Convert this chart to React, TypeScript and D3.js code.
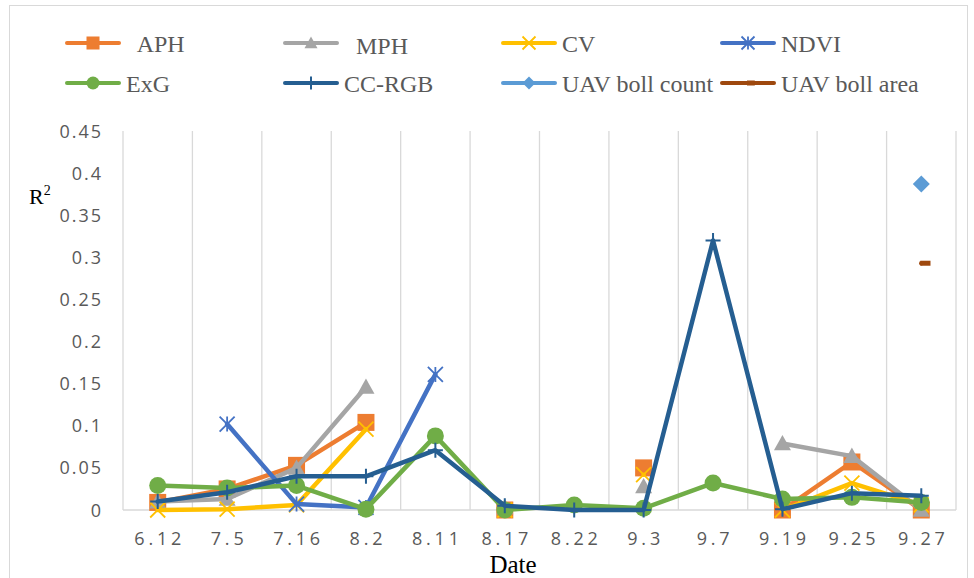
import React from 'react';
import * as d3 from 'd3';

// ---- data ----
const categories = ['6.12', '7.5', '7.16', '8.2', '8.11', '8.17', '8.22', '9.3', '9.7', '9.19', '9.25', '9.27'];
const aph = [0.009, 0.025, 0.053, 0.104, null, 0.0, null, 0.05, null, 0.0, 0.057, 0.0];
const mph = [0.01, 0.013, 0.05, 0.146, null, 0.003, null, 0.028, null, 0.079, 0.064, 0.0];
const cv = [0.0, 0.001, 0.006, 0.096, null, 0.0, null, 0.042, null, 0.0, 0.032, 0.006];
const ndvi = [null, 0.102, 0.007, 0.003, 0.161, null, null, null, null, null, null, null];
const exg = [0.029, 0.026, 0.029, 0.001, 0.088, 0.0, 0.006, 0.002, 0.032, 0.013, 0.015, 0.009];
const ccRgb = [0.01, 0.021, 0.04, 0.04, 0.071, 0.005, 0.0, 0.0, 0.32, 0.001, 0.02, 0.017];
const bollCount = [null, null, null, null, null, null, null, null, null, null, null, 0.387];
const bollArea = [null, null, null, null, null, null, null, null, null, null, null, 0.293];
const yTicks = [0, 0.05, 0.1, 0.15, 0.2, 0.25, 0.3, 0.35, 0.4, 0.45];
const yTickLabels = ['0', '0.05', '0.1', '0.15', '0.2', '0.25', '0.3', '0.35', '0.4', '0.45'];

const seriesNames = ['APH', 'MPH', 'CV', 'NDVI', 'ExG', 'CC-RGB', 'UAV boll count', 'UAV boll area'];
const seriesValues = [aph, mph, cv, ndvi, exg, ccRgb, bollCount, bollArea];
const seriesColors = ['#ED7D31', '#A5A5A5', '#FFC000', '#4472C4', '#70AD47', '#255E91', '#5B9BD5', '#9E480E'];
const seriesMarkers = ['square', 'triangle', 'x', 'asterisk', 'circle', 'plus', 'diamond', 'dash'];
const legendLabels = ['  APH', '  MPH', 'CV', 'NDVI', 'ExG', 'CC-RGB', 'UAV boll count', 'UAV boll area'];

const W = 974;
const H = 578;
const M = { left: 123, right: 956, top: 131, bottom: 510 };

const SERIF = '"Liberation Serif", "Times New Roman", serif';
const SANS = '"Open Sans", "Noto Sans", sans-serif';

function Marker({ kind, x, y, color, s }: { kind: string; x: number; y: number; color: string; s: number }) {
  const h = s / 2;
  switch (kind) {
    case 'square':
      return <rect x={x - h} y={y - h} width={s} height={s} fill={color} />;
    case 'triangle':
      return <path d={`M${x},${y - h}L${x + h},${y + h * 0.8}L${x - h},${y + h * 0.8}Z`} fill={color} />;
    case 'circle':
      return <circle cx={x} cy={y} r={h} fill={color} />;
    case 'diamond':
      return <path d={`M${x},${y - h}L${x + h},${y}L${x},${y + h}L${x - h},${y}Z`} fill={color} />;
    case 'x':
      return (
        <path
          d={`M${x - h},${y - h}L${x + h},${y + h}M${x - h},${y + h}L${x + h},${y - h}`}
          stroke={color}
          strokeWidth={1.8}
          fill="none"
        />
      );
    case 'asterisk':
      return (
        <path
          d={`M${x - h},${y - h}L${x + h},${y + h}M${x - h},${y + h}L${x + h},${y - h}M${x},${y - h}L${x},${y + h}`}
          stroke={color}
          strokeWidth={1.8}
          fill="none"
        />
      );
    case 'plus':
      return (
        <path d={`M${x},${y - h}V${y + h}M${x - h},${y}H${x + h}`} stroke={color} strokeWidth={2} fill="none" />
      );
    case 'dash':
      return <rect x={x - 1} y={y - 2.5} width={s * 0.6} height={5} fill={color} />;
    default:
      return null;
  }
}

export default function App() {
  const x = d3.scaleBand<string>().domain(categories).range([M.left, M.right]).padding(0);
  const y = d3.scaleLinear().domain([0, 0.45]).range([M.bottom, M.top]);
  const cx = (c: string) => (x(c) as number) + x.bandwidth() / 2;

  const line = d3
    .line<number | null>()
    .defined((d) => d != null)
    .x((_, i) => cx(categories[i]))
    .y((d) => y(d as number));

  const gridXs = categories.map((c) => x(c) as number).concat([M.right]);

  const legendCols = [67, 285, 503, 722];
  const legendRows = [43, 83];

  return (
    <svg
      width={W}
      height={H}
      style={{ position: 'absolute', left: 0, top: 0, background: '#fff' }}
      xmlns="http://www.w3.org/2000/svg"
    >
      <rect x={0} y={0} width={W} height={H} fill="#fff" />
      {/* chart border */}
      <rect x={9.5} y={5.5} width={958} height={590} fill="none" stroke="#D9D9D9" strokeWidth={1} />

      {/* vertical gridlines */}
      {gridXs.map((gx, i) => (
        <line key={i} x1={gx} x2={gx} y1={M.top} y2={M.bottom} stroke="#D9D9D9" strokeWidth={1.3} />
      ))}
      {/* bottom axis */}
      <line x1={M.left} x2={M.right} y1={M.bottom} y2={M.bottom} stroke="#D9D9D9" strokeWidth={1.3} />

      {/* y tick labels */}
      {yTicks.map((t, i) => (
        <text
          key={t}
          x={101 + 2}
          y={y(t) + 6.5}
          textAnchor="end"
          fontFamily={SANS}
          fontSize={18}
          letterSpacing={2}
          fill="#595959"
        >
          {yTickLabels[i]}
        </text>
      ))}

      {/* x tick labels */}
      {categories.map((c) => (
        <text
          key={c}
          x={cx(c) + 2}
          y={545}
          textAnchor="middle"
          fontFamily={SANS}
          fontSize={18}
          letterSpacing={3.8}
          fill="#595959"
        >
          {c}
        </text>
      ))}

      {/* axis titles */}
      <text x={29} y={204} fontFamily={SERIF} fontSize={22} fill="#000">
        R<tspan dy={-9} fontSize={14}>2</tspan>
      </text>
      <text x={513} y={573} textAnchor="middle" fontFamily={SERIF} fontSize={25} fill="#000">
        Date
      </text>

      {/* series */}
      {seriesValues.map((vals, si) => (
        <g key={seriesNames[si]}>
          <path
            d={line(vals) || ''}
            fill="none"
            stroke={seriesColors[si]}
            strokeWidth={4.5}
            strokeLinejoin="round"
            strokeLinecap="round"
          />
          {vals.map((v, i) =>
            v == null ? null : (
              <Marker
                key={i}
                kind={seriesMarkers[si]}
                x={cx(categories[i])}
                y={y(v)}
                color={seriesColors[si]}
                s={seriesMarkers[si] === 'x' || seriesMarkers[si] === 'asterisk' || seriesMarkers[si] === 'plus' ? 15 : 17}
              />
            )
          )}
        </g>
      ))}

      {/* legend */}
      {seriesNames.map((name, i) => {
        const col = i % 4;
        const row = Math.floor(i / 4);
        const lx = legendCols[col];
        const ly = legendRows[row];
        return (
          <g key={name}>
            <line x1={lx} x2={lx + 52} y1={ly} y2={ly} stroke={seriesColors[i]} strokeWidth={4} strokeLinecap="round" />
            <Marker kind={seriesMarkers[i]} x={lx + 26} y={ly} color={seriesColors[i]} s={13} />
            <text
              x={lx + 59}
              y={ly + (i === 1 ? 11 : 9)}
              fontFamily={SERIF}
              fontSize={24}
              fill="#595959"
              style={{ whiteSpace: 'pre' }}
            >
              {legendLabels[i]}
            </text>
          </g>
        );
      })}
    </svg>
  );
}
